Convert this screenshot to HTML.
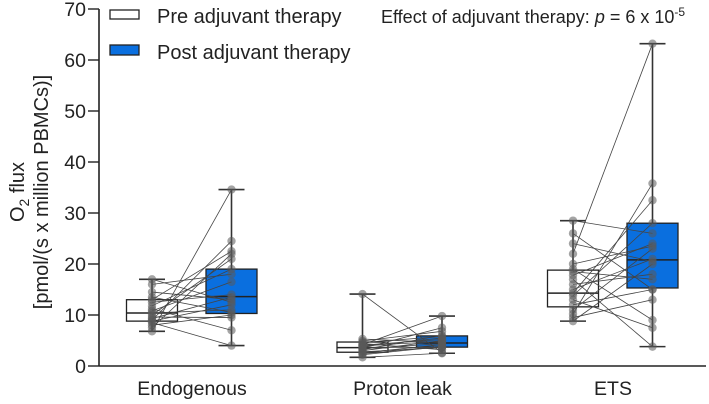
<!DOCTYPE html>
<html><head><meta charset="utf-8"><style>
html,body{margin:0;padding:0;background:#fff;}
svg{display:block;font-family:"Liberation Sans",Arial,sans-serif;}
</style></head><body>
<svg id="chart" width="709" height="404" viewBox="0 0 709 404">
<g id="axes"></g>
<g id="marks"></g>
<g>
<rect x="110" y="10" width="29" height="9" fill="#fff" stroke="#222" stroke-width="1.3"/>
<text x="157" y="23" font-size="20" fill="#222">Pre adjuvant therapy</text>
<rect x="110" y="45" width="29" height="10" fill="#0a6fdf" stroke="#222" stroke-width="1.3"/>
<text x="157" y="59" font-size="20" fill="#222">Post adjuvant therapy</text>
</g>
<text x="381" y="23" font-size="18" fill="#222">Effect of adjuvant therapy: <tspan font-style="italic">p</tspan> = 6 x 10<tspan dy="-7" font-size="12">-5</tspan></text>
<g transform="translate(24,192) rotate(-90)">
<text x="0" y="0" text-anchor="middle" font-size="20" fill="#222">O<tspan dy="5" font-size="14">2</tspan><tspan dy="-5"> flux</tspan></text>
<text x="0" y="24" text-anchor="middle" font-size="20" fill="#222">[pmol/(s x million PBMCs)]</text>
</g>
</svg>
<script>
const categories=["Endogenous","Proton leak","ETS"];
const yTicks=[0,10,20,30,40,50,60,70];
// box stats: [whiskerLow, q1, median, q3, whiskerHigh]
const preStats=[[6.8,8.8,10.4,13,17],[1.7,2.7,3.6,4.7,14.1],[8.8,11.6,14.3,18.8,28.5]];
const postStats=[[4,10.3,13.6,19,34.6],[2.5,3.7,4.5,5.9,9.8],[3.8,15.3,20.8,28,63.2]];
// paired subject values
const endoPre=[6.8,7.5,8,8.5,8.8,9,9.3,9.6,10,10.4,10.8,11.2,11.8,12.5,13,13.5,14.5,16,17];
const endoPost=[34.6,22,10,4,12,24.5,13.5,9.5,21,11,16.5,7,19,14,22.5,10.5,13,18,12.5];
const leakPre=[1.7,2.2,2.6,2.8,3,3.2,3.4,3.6,3.8,4,4.2,4.4,4.6,4.9,5.3,14.1,2.4,3.5,4.1];
const leakPost=[2.5,3.8,4.2,3.6,5,6,4.4,3.7,5.5,4.8,9.8,3.2,5.8,6.8,4.6,2.6,3.9,7.5,5.2];
const etsPre=[8.8,9.5,10.2,11,12,13,13.8,14.3,15,16,17,17.8,18.5,19,20,22,24,26,28.5];
const etsPost=[20,13,35.8,23,15,7.5,28,32.5,21,18,3.8,24,17,9,23.5,63.2,20.5,15,26];
const preSeries=[endoPre,leakPre,etsPre];
const postSeries=[endoPost,leakPost,etsPost];

const NS="http://www.w3.org/2000/svg";
const X0=99,X1=706,Y0=366,Y70=9;
const y=v=>Y0-(Y0-Y70)*v/70;
const groupX=i=>152+i*210.5;
const preX=i=>groupX(i), postX=i=>groupX(i)+79.5;
const BW=51;
function mk(tag,attrs,parent){const e=document.createElementNS(NS,tag);for(const k in attrs)e.setAttribute(k,attrs[k]);parent.appendChild(e);return e;}
const axes=document.getElementById('axes'), marks=document.getElementById('marks');
let e=mk('line',{x1:X0,y1:Y70,x2:X0,y2:Y0,stroke:'#222','stroke-width':1.6},axes);


e=mk('line',{x1:X0,y1:Y0,x2:X1,y2:Y0,stroke:'#222','stroke-width':1.6},axes);


yTicks.forEach(t=>{
 let l=mk('line',{x1:X0-11,y1:y(t),x2:X0,y2:y(t),stroke:'#222','stroke-width':1.4},axes);
 
 
 let tx=mk('text',{x:X0-13,y:y(t)+7,'text-anchor':'end','font-size':19.5,fill:'#222'},axes);
 tx.textContent=t;
 
 
});
categories.forEach((c,i)=>{
 let tx=mk('text',{x:groupX(i)+40,y:395,'text-anchor':'middle','font-size':19.5,fill:'#222'},axes);
 tx.textContent=c;
 
 
});
function box(cx,s,fill,name){
 const g=mk('g',{},marks);
 
 
 mk('line',{x1:cx,y1:y(s[0]),x2:cx,y2:y(s[4]),stroke:'#333','stroke-width':1.6},g);
 mk('line',{x1:cx-13,y1:y(s[0]),x2:cx+13,y2:y(s[0]),stroke:'#333','stroke-width':1.6},g);
 mk('line',{x1:cx-13,y1:y(s[4]),x2:cx+13,y2:y(s[4]),stroke:'#333','stroke-width':1.6},g);
 mk('rect',{x:cx-BW/2,y:y(s[3]),width:BW,height:y(s[1])-y(s[3]),fill:fill,stroke:'#222','stroke-width':1.3},g);
 mk('line',{x1:cx-BW/2,y1:y(s[2]),x2:cx+BW/2,y2:y(s[2]),stroke:'#222','stroke-width':1.5},g);
}
categories.forEach((c,i)=>{
 box(preX(i),preStats[i],'#fff','box-pre');
 box(postX(i),postStats[i],'#0a6fdf','box-post');
});
categories.forEach((c,i)=>{
 const pre=preSeries[i],post=postSeries[i];
 pre.forEach((v,j)=>{
  let l=mk('line',{x1:preX(i),y1:y(v),x2:postX(i),y2:y(post[j]),stroke:'#444','stroke-width':0.8},marks);
  
  
 });
 pre.forEach(v=>{
  let p=mk('circle',{cx:preX(i),cy:y(v),r:4.2,fill:'rgba(90,90,90,0.55)'},marks);
  
  
 });
 post.forEach(v=>{
  let p=mk('circle',{cx:postX(i),cy:y(v),r:4.2,fill:'rgba(90,90,90,0.55)'},marks);
  
  
 });
});
</script>
</body></html>
